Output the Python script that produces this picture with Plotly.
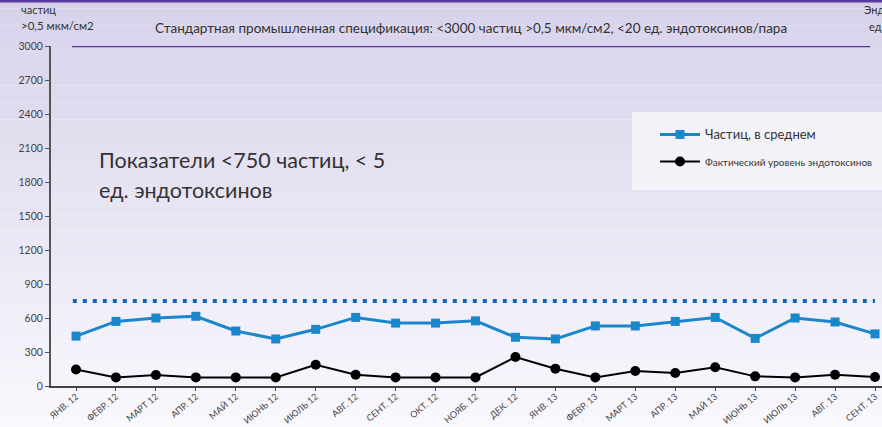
import plotly.graph_objects as go

months = ["ЯНВ. 12", "ФЕВР. 12", "МАРТ 12", "АПР. 12", "МАЙ 12", "ИЮНЬ 12", "ИЮЛЬ 12",
          "АВГ. 12", "СЕНТ. 12", "ОКТ. 12", "НОЯБ. 12", "ДЕК. 12", "ЯНВ. 13", "ФЕВР. 13",
          "МАРТ 13", "АПР. 13", "МАЙ 13", "ИЮНЬ 13", "ИЮЛЬ 13", "АВГ. 13", "СЕНТ. 13"]
particles = [440, 570, 600, 615, 485, 415, 500, 605, 555, 555, 575, 430, 415, 530,
             530, 570, 605, 420, 600, 565, 460]
endotoxins = [145, 76, 97, 76, 76, 76, 188, 100, 76, 76, 76, 256, 153, 76,
              132, 115, 165, 85, 76, 100, 80]
y_ticks = [0, 300, 600, 900, 1200, 1500, 1800, 2100, 2400, 2700, 3000]
spec_limit = 3000
target_limit = 750

FONT = "Lato, 'Open Sans', sans-serif"
idx = list(range(len(months)))

fig = go.Figure()

fig.add_trace(go.Scatter(
    x=idx, y=particles, mode="lines+markers",
    name="<span style='font-size:13px'>Частиц, в среднем</span>",
    legendgroup="a",
    line=dict(color="#1a86cb", width=3),
    marker=dict(symbol="square", size=9, color="#1a86cb"),
    cliponaxis=False,
))
fig.add_trace(go.Scatter(
    x=idx, y=endotoxins, mode="lines+markers",
    name="<span style='font-size:10px'>Фактический уровень эндотоксинов</span>",
    legendgroup="b",
    line=dict(color="#000000", width=2),
    marker=dict(symbol="circle", size=10, color="#000000"),
    cliponaxis=False,
))

def px(xp):
    return (xp - 51) / 831

def py(yp):
    return (386 - yp) / 340

shapes = []
# background gradient (lavender top -> near white bottom)
n = 50
top_c = (215, 210, 234)
bot_c = (249, 248, 253)
y0p, y1p = py(427), py(0)
for i in range(n):
    t = i / (n - 1)
    c = tuple(int(round(top_c[k] + (bot_c[k] - top_c[k]) * t)) for k in range(3))
    ya = y1p - (y1p - y0p) * i / n
    yb = y1p - (y1p - y0p) * (i + 1) / n
    shapes.append(dict(type="rect", xref="paper", yref="paper", x0=px(0), x1=px(882),
                       y0=yb, y1=ya, line=dict(width=0), fillcolor="rgb(%d,%d,%d)" % c,
                       layer="below"))
# top border
shapes.append(dict(type="line", xref="paper", yref="paper", x0=px(0), x1=px(882),
                   y0=py(1), y1=py(1), line=dict(color="#5a3a9c", width=3)))
# legend box
shapes.append(dict(type="rect", xref="paper", yref="paper", x0=px(632), x1=px(884),
                   y0=py(190), y1=py(112), line=dict(width=0), fillcolor="#f3f2f9",
                   layer="below"))
# spec line at 3000
shapes.append(dict(type="line", xref="x", yref="y", x0=-0.1, x1=19.88,
                   y0=spec_limit, y1=spec_limit, line=dict(color="#5b2d9e", width=2.5)))
# target dotted line at 750
shapes.append(dict(type="line", xref="x", yref="y", x0=-0.08, x1=20.0,
                   y0=target_limit, y1=target_limit,
                   line=dict(color="#1565c0", width=4, dash="4px,6px")))

ann = []
ann.append(dict(text="частиц", x=px(19), y=py(10), xanchor="left", yanchor="middle",
                font=dict(size=11, color="#333")))
ann.append(dict(text="&gt;0,5 мкм/см2", x=px(19), y=py(26), xanchor="left", yanchor="middle",
                font=dict(size=11.5, color="#333")))
ann.append(dict(text="Стандартная промышленная спецификация: &lt;3000 частиц &gt;0,5 мкм/см2, &lt;20 ед. эндотоксинов/пара",
                x=px(471), y=py(28), xanchor="center", yanchor="middle",
                font=dict(size=13.5, color="#333")))
ann.append(dict(text="Эндотоксины", x=px(862), y=py(10), xanchor="left", yanchor="middle",
                font=dict(size=11, color="#333")))
ann.append(dict(text="ед./пара", x=px(867), y=py(27), xanchor="left", yanchor="middle",
                font=dict(size=11, color="#333")))
ann.append(dict(text="Показатели &lt;750 частиц, &lt; 5", x=px(97), y=py(160), xanchor="left",
                yanchor="middle", font=dict(size=21.5, color="#333")))
ann.append(dict(text="ед. эндотоксинов", x=px(97), y=py(190), xanchor="left",
                yanchor="middle", font=dict(size=21.5, color="#333")))
for a in ann:
    a.update(xref="paper", yref="paper", showarrow=False)

fig.update_layout(
    width=882, height=427,
    margin=dict(l=51, r=0, t=46, b=41, autoexpand=False),
    paper_bgcolor="#f7f6fb", plot_bgcolor="rgba(0,0,0,0)",
    font=dict(family=FONT, color="#444"),
    shapes=shapes, annotations=ann,
    showlegend=True,
    legend=dict(x=px(655), y=py(120), xanchor="left", yanchor="top",
                bgcolor="rgba(0,0,0,0)", font=dict(size=12, color="#333"),
                traceorder="grouped", tracegroupgap=8, itemwidth=40),
    xaxis=dict(range=[-0.626, 20.175], tickmode="array", tickvals=idx, ticktext=months,
               tickangle=-40, showgrid=False, zeroline=False, showline=True,
               linecolor="#444", linewidth=2, ticks="outside", ticklen=3,
               ticklabelstandoff=-3,
               tickcolor="#444", tickfont=dict(size=9, color="#444")),
    yaxis=dict(range=[0, 3000], tickmode="array", tickvals=y_ticks, showgrid=False,
               zeroline=False, showline=True, linecolor="#555", linewidth=2,
               ticks="outside", ticklen=4, tickcolor="#555",
               tickfont=dict(size=10.5, color="#444")),
)

fig.write_html("out.html", config={"displayModeBar": False},
               post_script="document.body.style.margin='0';document.body.style.overflow='hidden';")
